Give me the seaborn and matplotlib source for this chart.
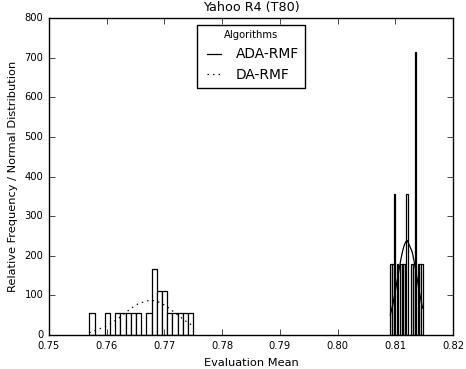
import numpy as np
import seaborn as sns
import matplotlib
matplotlib.use("Agg")
import matplotlib.pyplot as plt
from matplotlib.lines import Line2D

# evaluation means (20 runs per algorithm)
ada_rmf = [0.80915, 0.80957, 0.80984, 0.80986, 0.81041, 0.81097, 0.81125,
           0.81153, 0.81181, 0.81208, 0.81210, 0.81293, 0.81321, 0.81347,
           0.81349, 0.81350, 0.81352, 0.81405, 0.81433, 0.81475]
da_rmf = [0.7570, 0.7602, 0.7620, 0.7628, 0.7638, 0.7646, 0.7656, 0.7674,
          0.7683, 0.7682, 0.7683, 0.7692, 0.7691, 0.7700, 0.7701, 0.7710,
          0.7718, 0.7728, 0.7736, 0.7750]
labels = ["ADA-RMF", "DA-RMF"]
x_ticks = [0.75, 0.76, 0.77, 0.78, 0.79, 0.80, 0.81, 0.82]
y_ticks = [0, 100, 200, 300, 400, 500, 600, 700, 800]


def normal_pdf(values):
    """Normal fit evaluated at the sorted samples."""
    x = np.sort(np.asarray(values))
    mu, sigma = x.mean(), x.std()
    y = np.exp(-(x - mu) ** 2 / (2 * sigma ** 2)) / (sigma * np.sqrt(2 * np.pi))
    return x, y


plt.style.use("classic")
fig = plt.figure(figsize=(4.66, 3.69), dpi=100)
ax = fig.add_axes([0.105, 0.092, 0.867, 0.859])

styles = ["-", ":"]
for data, ls in zip([ada_rmf, da_rmf], styles):
    sns.histplot(x=data, bins=20, stat="density", ax=ax,
                 facecolor="white", edgecolor="black", linewidth=0.9,
                 alpha=1)
    x, y = normal_pdf(data)
    sns.lineplot(x=x, y=y, ax=ax, color="black", linestyle=ls,
                 linewidth=0.9, sort=False, estimator=None)

ax.set_xlim(0.75, 0.82)
ax.set_ylim(0, 800)
ax.set_xticks(x_ticks)
ax.set_xticklabels([f"{t:.2f}" for t in x_ticks], fontsize=7.2)
ax.set_yticks(y_ticks)
ax.set_yticklabels([str(t) for t in y_ticks], fontsize=7.2)
ax.set_title("Yahoo R4 (T80)", fontsize=9.2)
ax.set_xlabel("Evaluation Mean", fontsize=8.2)
ax.set_ylabel("Relative Frequency / Normal Distribution", fontsize=8.2)

handles = [Line2D([], [], color="black", linestyle=ls, linewidth=0.9)
           for ls in styles]
leg = ax.legend(handles, labels, title="Algorithms", loc="upper center",
                fontsize=9.9, frameon=True, fancybox=False, handlelength=1.6)
leg.get_title().set_fontsize(7.2)

fig.savefig("out.png", dpi=100, facecolor="white")
